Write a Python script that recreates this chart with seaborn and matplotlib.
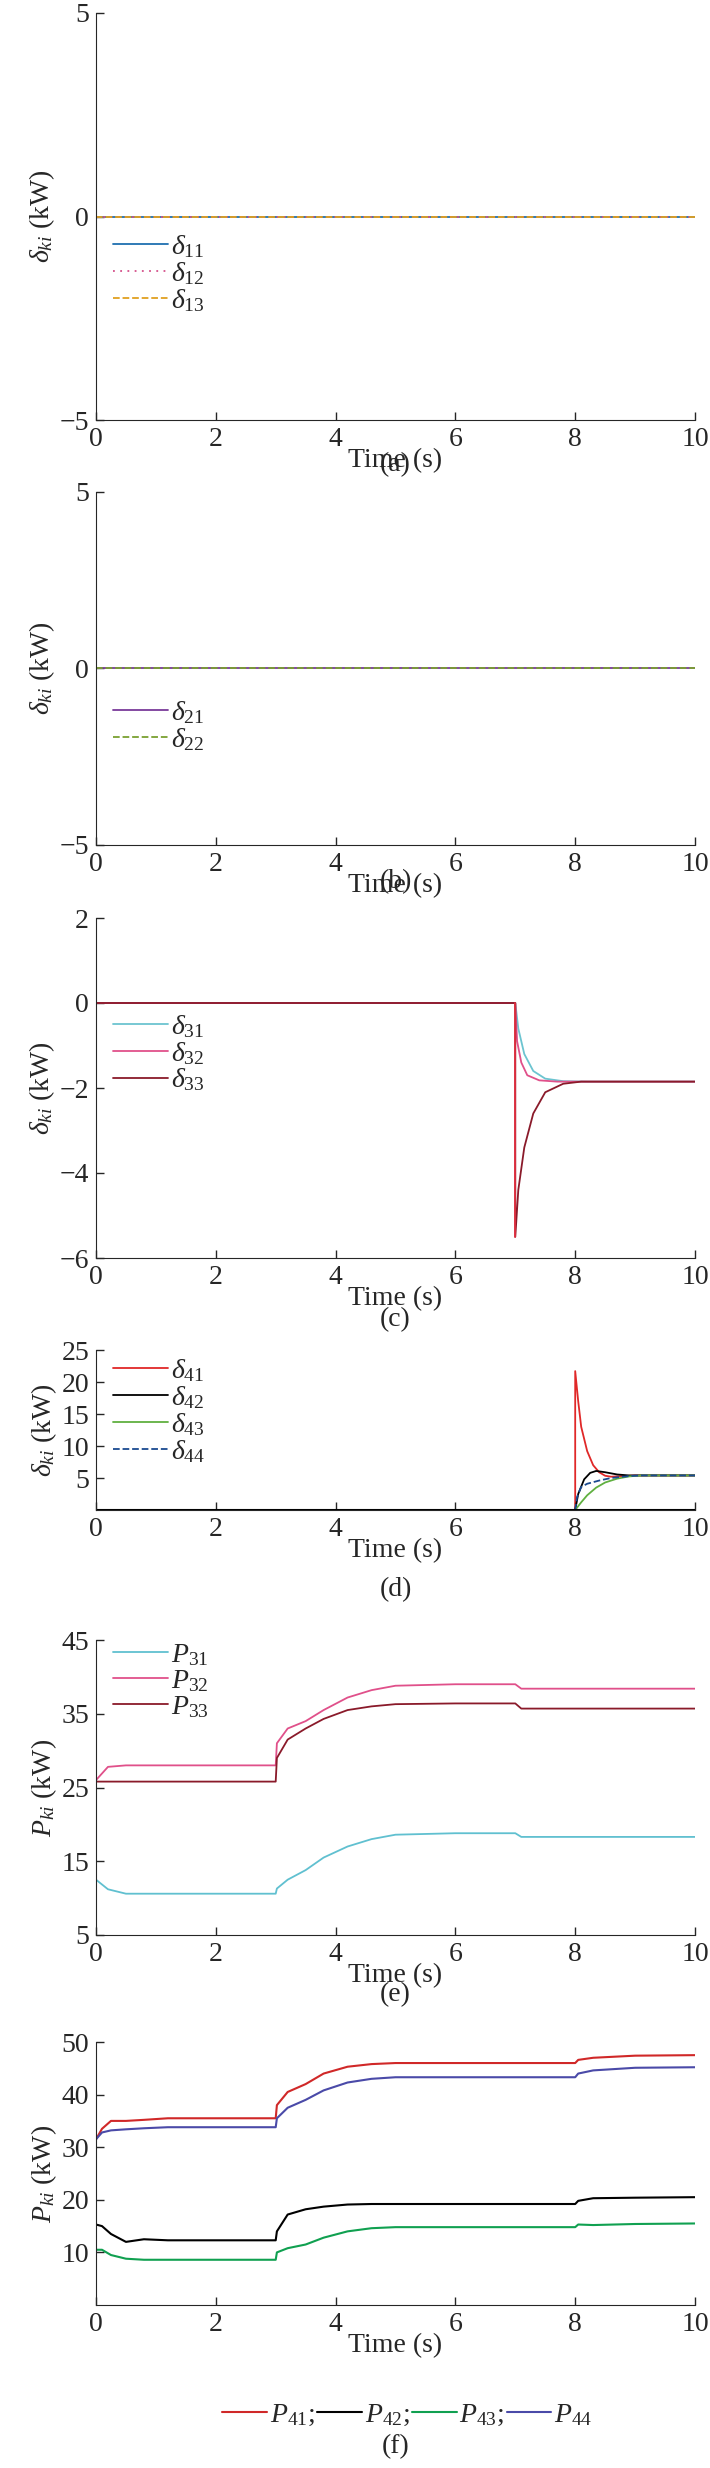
import numpy as np
import matplotlib
matplotlib.use("Agg")
import matplotlib.pyplot as plt
import seaborn as sns

sns.set_style("ticks")
plt.rcParams['font.family'] = ['Liberation Serif', 'DejaVu Serif']
plt.rcParams['mathtext.fontset'] = 'custom'
plt.rcParams['mathtext.rm'] = 'Liberation Serif'
plt.rcParams['mathtext.it'] = 'Liberation Serif:italic'
plt.rcParams['font.size'] = 20
plt.rcParams['xtick.direction'] = 'in'
plt.rcParams['ytick.direction'] = 'in'

# ---- data ----
t_flat = [0, 10]
zero = [0, 0]

# (c)
t_c31 = [0, 7.0, 7.05, 7.15, 7.3, 7.5, 7.8, 8.2, 10]
d31 = [0, 0, -0.6, -1.2, -1.6, -1.78, -1.84, -1.85, -1.85]
t_c32 = [0, 7.0, 7.03, 7.1, 7.2, 7.4, 7.7, 8.0, 10]
d32 = [0, 0, -0.9, -1.4, -1.7, -1.82, -1.85, -1.85, -1.85]
t_c33 = [0, 7.0, 7.0, 7.05, 7.15, 7.3, 7.5, 7.8, 8.1, 10]
d33 = [0, 0, -5.5, -4.4, -3.4, -2.6, -2.1, -1.9, -1.85, -1.85]

# (d)
t_d41 = [0, 8.0, 8.0, 8.05, 8.1, 8.2, 8.3, 8.4, 8.5, 8.6, 8.8, 9.0, 10]
d41 = [0, 0, 21.7, 17.0, 13.0, 9.2, 7.0, 5.9, 5.35, 5.2, 5.3, 5.4, 5.4]
t_d42 = [0, 8.0, 8.05, 8.15, 8.25, 8.35, 8.5, 8.7, 8.9, 10]
d42 = [0, 0, 2.5, 4.8, 5.8, 6.1, 5.9, 5.55, 5.4, 5.4]
t_d43 = [0, 8.0, 8.1, 8.2, 8.35, 8.5, 8.7, 8.9, 9.1, 10]
d43 = [0, 0, 1.2, 2.3, 3.5, 4.3, 4.9, 5.25, 5.4, 5.4]
t_d44 = [0, 8.0, 8.03, 8.1, 8.2, 8.4, 8.6, 8.9, 9.1, 10]
d44 = [0, 0, 2.0, 3.6, 4.1, 4.6, 5.0, 5.3, 5.4, 5.4]

# (e)
t_e = [0, 0.2, 0.5, 1.0, 3.0, 3.02, 3.2, 3.5, 3.8, 4.2, 4.6, 5.0, 6.0, 7.0, 7.1, 10]
P31 = [12.5, 11.2, 10.6, 10.6, 10.6, 11.3, 12.5, 13.8, 15.5, 17.0, 18.0, 18.6, 18.8, 18.8, 18.3, 18.3]
P32 = [26.0, 27.8, 28.0, 28.0, 28.0, 31.0, 33.0, 34.0, 35.5, 37.2, 38.2, 38.8, 39.0, 39.0, 38.4, 38.4]
P33 = [25.8, 25.8, 25.8, 25.8, 25.8, 29.0, 31.5, 33.0, 34.3, 35.5, 36.0, 36.3, 36.4, 36.4, 35.7, 35.7]

# (f)
t_f = [0, 0.1, 0.25, 0.5, 0.8, 1.2, 3.0, 3.02, 3.2, 3.5, 3.8, 4.2, 4.6, 5.0, 6.0, 8.0, 8.05, 8.3, 9.0, 10]
P41 = [31.5, 33.5, 35.0, 35.0, 35.2, 35.5, 35.5, 38.0, 40.5, 42.0, 44.0, 45.3, 45.8, 46.0, 46.0, 46.0, 46.6, 47.0, 47.4, 47.5]
P42 = [15.3, 15.0, 13.5, 12.0, 12.5, 12.3, 12.3, 14.0, 17.2, 18.2, 18.7, 19.1, 19.2, 19.2, 19.2, 19.2, 19.8, 20.3, 20.4, 20.5]
P43 = [10.5, 10.5, 9.5, 8.8, 8.6, 8.6, 8.6, 10.0, 10.8, 11.5, 12.8, 14.0, 14.6, 14.8, 14.8, 14.8, 15.3, 15.2, 15.4, 15.5]
P44 = [31.5, 32.8, 33.2, 33.4, 33.6, 33.8, 33.8, 35.5, 37.5, 39.0, 40.8, 42.3, 43.0, 43.3, 43.3, 43.3, 44.0, 44.6, 45.1, 45.2]

W, H = 710, 2468
fig = plt.figure(figsize=(W / 100, H / 100), dpi=100)


def make_ax(top, bottom, ylim, yticks, ylabel, tag, tag_y):
    ax = fig.add_axes([96 / W, 1 - bottom / H, (695 - 96) / W, (bottom - top) / H])
    ax.set_xlim(0, 10)
    ax.set_ylim(*ylim)
    ax.set_xticks([0, 2, 4, 6, 8, 10])
    ax.set_yticks(yticks)
    sns.despine(ax=ax)
    ax.tick_params(length=6, width=1, pad=5)
    ax.set_xlabel("Time (s)", labelpad=-3)
    ax.set_ylabel(ylabel, labelpad=2)
    fig.text(0.5 * (96 + 695) / W, 1 - tag_y / H, tag, ha='center', va='center', fontsize=20)
    return ax


def line(ax, x, y, **kw):
    sns.lineplot(x=x, y=y, ax=ax, sort=False, estimator=None, **kw)


leg_kw = dict(loc='upper left', frameon=False, handlelength=2,
              handletextpad=0.1, labelspacing=0.0, borderaxespad=0.2)
dk = r"$\delta_{ki}$ (kW)"
pk = r"$P_{ki}$ (kW)"

# (a)
ax = make_ax(13, 420, (-5, 5), [-5, 0, 5], dk, "(a)", 492 - 27)
line(ax, t_flat, zero, color='#1f6fb0', lw=1.3, label=r"$\delta_{11}$")
line(ax, t_flat, zero, color='#d4508a', lw=1.3, ls=(0, (1, 3)), label=r"$\delta_{12}$")
line(ax, t_flat, zero, color='#e0a020', lw=1.3, ls='--', label=r"$\delta_{13}$")
ax.legend(bbox_to_anchor=(0.0, 0.5), **leg_kw)

# (b)
ax = make_ax(492, 845, (-5, 5), [-5, 0, 5], dk, "(b)", 882)
line(ax, t_flat, zero, color='#7a3a9a', lw=1.3, label=r"$\delta_{21}$")
line(ax, t_flat, zero, color='#7aa030', lw=1.3, ls='--', label=r"$\delta_{22}$")
ax.legend(bbox_to_anchor=(0.0, 0.46), **leg_kw)

# (c)
ax = make_ax(918, 1258, (-6, 2), [-6, -4, -2, 0, 2], dk, "(c)", 1320)
line(ax, t_c31, d31, color='#6cc4d0', lw=1.3, label=r"$\delta_{31}$")
line(ax, t_c32, d32, color='#e0508a', lw=1.3, label=r"$\delta_{32}$")
line(ax, t_c33, d33, color='#8a1a2a', lw=1.3, label=r"$\delta_{33}$")
ax.plot([7, 7], [0, -5.5], color='#e03040', lw=1.3)
ax.legend(bbox_to_anchor=(0.0, 0.77), **leg_kw)

# (d)
ax = make_ax(1350, 1510, (0, 25), [5, 10, 15, 20, 25], dk, "(d)", 1590)
line(ax, t_d41, d41, color='#e02828', lw=1.3, label=r"$\delta_{41}$")
line(ax, t_d42, d42, color='black', lw=1.3, label=r"$\delta_{42}$")
line(ax, t_d43, d43, color='#60b040', lw=1.3, label=r"$\delta_{43}$")
line(ax, t_d44, d44, color='#1a4a90', lw=1.3, ls='--', label=r"$\delta_{44}$")
ax.plot(t_flat, zero, color='black', lw=1.5)
ax.legend(bbox_to_anchor=(0.0, 1.06), **leg_kw)

# (e)
ax = make_ax(1640, 1935, (5, 45), [5, 15, 25, 35, 45], pk, "(e)", 1995)
line(ax, t_e, P31, color='#60c0d0', lw=1.3, label=r"$P_{31}$")
line(ax, t_e, P32, color='#e0508a', lw=1.3, label=r"$P_{32}$")
line(ax, t_e, P33, color='#8a1a2a', lw=1.3, label=r"$P_{33}$")
ax.legend(bbox_to_anchor=(0.0, 1.05), **leg_kw)

# (f)
ax = make_ax(2042, 2305, (0, 50), [10, 20, 30, 40, 50], pk, "(f)", 2447)
line(ax, t_f, P41, color='#d02828', lw=1.5, label=r"$P_{41}$;")
line(ax, t_f, P42, color='black', lw=1.5, label=r"$P_{42}$;")
line(ax, t_f, P43, color='#10a050', lw=1.5, label=r"$P_{43}$;")
line(ax, t_f, P44, color='#4a4aa8', lw=1.5, label=r"$P_{44}$")
ax.legend(loc='center', bbox_to_anchor=(0.52, 1 - (2415 - 2042) / (2305 - 2042)), ncol=4,
          frameon=False, handlelength=1.6, handletextpad=0.1, columnspacing=0.1, borderaxespad=0)

fig.savefig("out.png", dpi=100)
